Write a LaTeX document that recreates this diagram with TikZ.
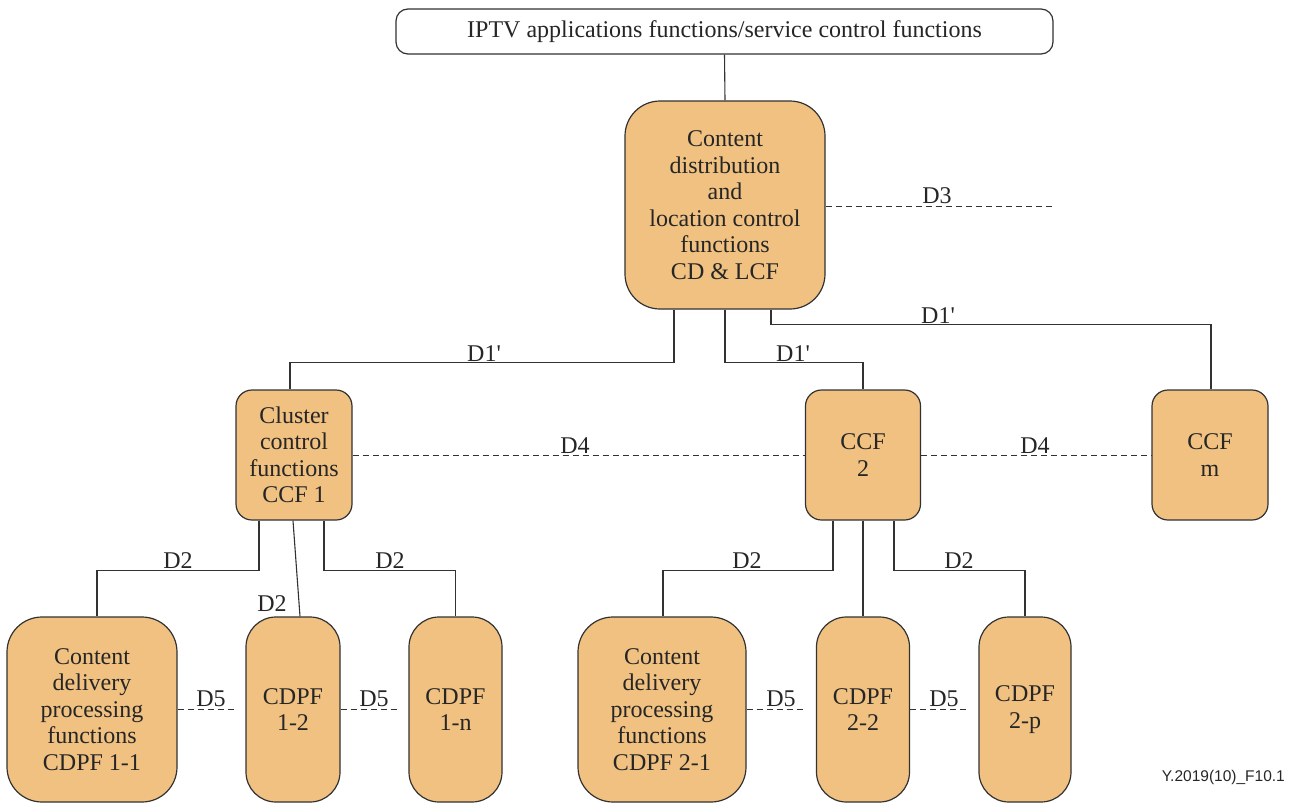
\documentclass[tikz,border=0pt]{standalone}
\usepackage{fontspec}
\setmainfont{Liberation Serif}
\newfontfamily\footfont{Liberation Sans}
\definecolor{boxfill}{RGB}{240,193,129}
\definecolor{linecol}{RGB}{50,50,50}
\newcommand{\Dp}{D1\textquotesingle}
\begin{document}
\begin{tikzpicture}[x=1pt,y=-1pt,
  every node/.style={font=\fontsize{24}{26.5}\selectfont, text=black!85},
  fbox/.style={draw=linecol, line width=1.2pt, fill=boxfill, align=center, inner sep=0pt, rounded corners=#1},
  fbox/.default=16pt,
  conn/.style={draw=linecol, line width=1.1pt},
  dconn/.style={draw=linecol, line width=1pt, dash pattern=on 6pt off 4pt},
  lbl/.style={anchor=base, inner sep=0pt}
]
\useasboundingbox (0,0) rectangle (1293,803);

% nodes
\node[fbox=12pt, fill=white, minimum width=657pt, minimum height=45pt] (top) at (724.5,31.5) {IPTV applications functions/service control functions};
\node[fbox=35pt, minimum width=200pt, minimum height=208pt] (cdlcf) at (725,205) {Content\\distribution\\and\\location control\\functions\\CD \& LCF};
\node[fbox=16pt, minimum width=116pt, minimum height=130pt] (ccf1) at (294,455) {Cluster\\control\\functions\\CCF 1};
\node[fbox=16pt, minimum width=115pt, minimum height=130pt] (ccf2) at (863,455) {CCF\\2};
\node[fbox=16pt, minimum width=116pt, minimum height=130pt] (ccfm) at (1210,455) {CCF\\m};
\node[fbox=35pt, minimum width=170pt, minimum height=185pt] (cdpf11) at (92,709.5) {Content\\delivery\\processing\\functions\\CDPF 1-1};
\node[fbox=30pt, minimum width=94pt, minimum height=185pt] (cdpf12) at (293,709.5) {CDPF\\1-2};
\node[fbox=30pt, minimum width=93pt, minimum height=185pt] (cdpf1n) at (455.5,709.5) {CDPF\\1-n};
\node[fbox=35pt, minimum width=168pt, minimum height=185pt] (cdpf21) at (662,709.5) {Content\\delivery\\processing\\functions\\CDPF 2-1};
\node[fbox=30pt, minimum width=93pt, minimum height=185pt] (cdpf22) at (863,709.5) {CDPF\\2-2};
\node[fbox=30pt, minimum width=92pt, minimum height=185pt] (cdpf2p) at (1025,709.5) {CDPF\\2-p};

% connectors
\draw[conn] (top.south) -- (cdlcf.north);
\draw[conn] ([xshift=-51pt]cdlcf.south) |- ([xshift=-4pt,yshift=27pt]ccf1.north) -- ([xshift=-4pt]ccf1.north);
\draw[conn] (cdlcf.south) |- ([yshift=27pt]ccf2.north) -- (ccf2.north);
\draw[conn] ([xshift=46pt]cdlcf.south) |- ([xshift=1pt,yshift=65pt]ccfm.north) -- ([xshift=1pt]ccfm.north);
\coordinate (d3end) at (1053,206);
\draw[dconn] (cdlcf.east |- d3end) -- (d3end);
\draw[dconn] (ccf1.east) -- (ccf2.west);
\draw[dconn] (ccf2.east) -- (ccfm.west);

\draw[conn] ([xshift=-35pt]ccf1.south) |- ([xshift=5pt,yshift=46pt]cdpf11.north) -- ([xshift=5pt]cdpf11.north);
\draw[conn] ([xshift=-1pt]ccf1.south) -- ([xshift=7pt]cdpf12.north);
\draw[conn] ([xshift=30pt]ccf1.south) |- ([yshift=46pt]cdpf1n.north) -- (cdpf1n.north);
\draw[conn] ([xshift=-30pt]ccf2.south) |- ([xshift=1pt,yshift=46pt]cdpf21.north) -- ([xshift=1pt]cdpf21.north);
\draw[conn] (ccf2.south) -- (cdpf22.north);
\draw[conn] ([xshift=31pt]ccf2.south) |- ([yshift=46pt]cdpf2p.north) -- (cdpf2p.north);

\draw[dconn] (cdpf11.east) -- ([xshift=-11pt]cdpf12.west);
\draw[dconn] (cdpf12.east) -- ([xshift=-11pt]cdpf1n.west);
\draw[dconn] (cdpf21.east) -- ([xshift=-11pt]cdpf22.west);
\draw[dconn] (cdpf22.east) -- ([xshift=-11pt]cdpf2p.west);

% labels
\node[lbl] (l1) at (484,361) {\Dp};
\node[lbl] (l2) at (793,361) {\Dp};
\node[lbl] (l3) at (938,323) {\Dp};
\node[lbl] (l4) at (937,203) {D3};
\node[lbl] (l5) at (575,453) {D4};
\node[lbl] (l6) at (1035,453) {D4};
\node[lbl] (l7) at (178,568) {D2};
\node[lbl] (l8) at (272,611) {D2};
\node[lbl] (l9) at (390,568) {D2};
\node[lbl] (l10) at (747,568) {D2};
\node[lbl] (l11) at (959,568) {D2};
\node[lbl] (l12) at (211,706) {D5};
\node[lbl] (l13) at (374,706) {D5};
\node[lbl] (l14) at (781,706) {D5};
\node[lbl] (l15) at (944,706) {D5};

\node[anchor=base east, inner sep=0pt, font=\footfont\fontsize{15.5}{17}\selectfont] (fig) at (1285,781) {Y.2019(10)\_F10.1};
\end{tikzpicture}
\end{document}
